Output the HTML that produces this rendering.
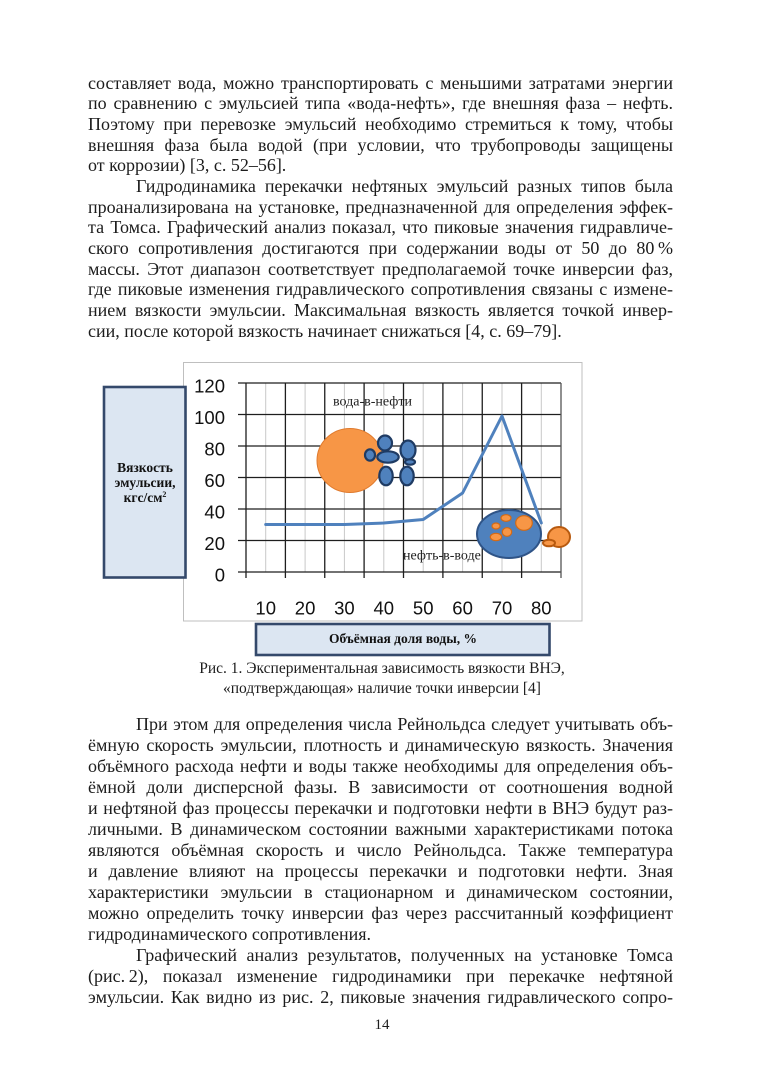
<!DOCTYPE html>
<html><head><meta charset="utf-8">
<style>
html,body{margin:0;padding:0;background:#fff;}
body{width:764px;height:1080px;position:relative;overflow:hidden;font-family:"Liberation Serif","Noto Serif CJK SC",serif;color:#1c1c1c;}
.blk{position:absolute;left:88px;width:585px;font-size:18px;}
.blk div{height:var(--lh);line-height:var(--lh);white-space:normal;}
.j{text-align:justify;text-align-last:justify;}
.l{text-align:left;}
.ind{padding-left:48px;}
.cap{position:absolute;left:0;width:764px;text-align:center;font-size:15.5px;line-height:20px;}
svg{position:absolute;left:0;top:0;}
</style></head><body>

<div class="blk" style="top:72.7px;--lh:20.67px;">
<div class="j">составляет вода, можно транспортировать с меньшими затратами энергии</div>
<div class="j">по сравнению с эмульсией типа «вода-нефть», где внешняя фаза – нефть.</div>
<div class="j">Поэтому при перевозке эмульсий необходимо стремиться к тому, чтобы</div>
<div class="j">внешняя фаза была водой (при условии, что трубопроводы защищены</div>
<div class="l">от коррозии) [3, с. 52–56].</div>
<div class="j ind">Гидродинамика перекачки нефтяных эмульсий разных типов была</div>
<div class="j">проанализирована на установке, предназначенной для определения эффек-</div>
<div class="j">та Томса. Графический анализ показал, что пиковые значения гидравличе-</div>
<div class="j">ского сопротивления достигаются при содержании воды от 50 до 80&#8201;%</div>
<div class="j">массы. Этот диапазон соответствует предполагаемой точке инверсии фаз,</div>
<div class="j">где пиковые изменения гидравлического сопротивления связаны с измене-</div>
<div class="j">нием вязкости эмульсии. Максимальная вязкость является точкой инвер-</div>
<div class="l">сии, после которой вязкость начинает снижаться [4, с. 69–79].</div>
</div>

<svg width="764" height="1080" viewBox="0 0 764 1080">
  <!-- chart frame -->
  <rect x="183.5" y="362.5" width="398.5" height="258.5" fill="#fff" stroke="#bfbfbf" stroke-width="1"/>
  <!-- light vertical gridlines -->
  <g stroke="#c8c8c8" stroke-width="1">
    <line x1="265.7" y1="383" x2="265.7" y2="572"/>
    <line x1="305.1" y1="383" x2="305.1" y2="572"/>
    <line x1="344.4" y1="383" x2="344.4" y2="572"/>
    <line x1="383.8" y1="383" x2="383.8" y2="572"/>
    <line x1="423.2" y1="383" x2="423.2" y2="572"/>
    <line x1="462.6" y1="383" x2="462.6" y2="572"/>
    <line x1="502.0" y1="383" x2="502.0" y2="572"/>
    <line x1="541.3" y1="383" x2="541.3" y2="572"/>
  </g>
  <!-- dark horizontal gridlines -->
  <g stroke="#1e1e1e" stroke-width="1.3">
    <line x1="238" y1="383" x2="561" y2="383"/>
    <line x1="238" y1="414.5" x2="561" y2="414.5"/>
    <line x1="238" y1="446" x2="561" y2="446"/>
    <line x1="238" y1="477.5" x2="561" y2="477.5"/>
    <line x1="238" y1="509" x2="561" y2="509"/>
    <line x1="238" y1="540.5" x2="561" y2="540.5"/>
    <line x1="238" y1="572" x2="561" y2="572"/>
  </g>
  <!-- dark vertical gridlines -->
  <g stroke="#1e1e1e" stroke-width="1.3">
    <line x1="246" y1="383" x2="246" y2="578"/>
    <line x1="285.4" y1="383" x2="285.4" y2="578"/>
    <line x1="324.75" y1="383" x2="324.75" y2="578"/>
    <line x1="364.1" y1="383" x2="364.1" y2="578"/>
    <line x1="403.5" y1="383" x2="403.5" y2="578"/>
    <line x1="442.9" y1="383" x2="442.9" y2="578"/>
    <line x1="482.25" y1="383" x2="482.25" y2="578"/>
    <line x1="521.6" y1="383" x2="521.6" y2="578"/>
    <line x1="561" y1="383" x2="561" y2="578" stroke="#555"/>
  </g>
  <!-- y labels -->
  <g font-family="Liberation Sans, DejaVu Sans, sans-serif" font-size="18.5" fill="#111" text-anchor="end">
    <text x="225" y="392.5">120</text>
    <text x="225" y="424">100</text>
    <text x="225" y="455.5">80</text>
    <text x="225" y="487">60</text>
    <text x="225" y="518.5">40</text>
    <text x="225" y="550">20</text>
    <text x="225" y="581.5">0</text>
  </g>
  <!-- x labels -->
  <g font-family="Liberation Sans, DejaVu Sans, sans-serif" font-size="18.5" fill="#111" text-anchor="middle">
    <text x="265.7" y="614.5">10</text>
    <text x="305.1" y="614.5">20</text>
    <text x="344.4" y="614.5">30</text>
    <text x="383.8" y="614.5">40</text>
    <text x="423.2" y="614.5">50</text>
    <text x="462.6" y="614.5">60</text>
    <text x="502.0" y="614.5">70</text>
    <text x="541.3" y="614.5">80</text>
  </g>
  <!-- data line -->
  <polyline points="265.7,524.5 305.1,524.5 344.4,524.5 383.8,523 423.2,519.5 462.6,493 502,416 541.3,523" fill="none" stroke="#4f81bd" stroke-width="3" stroke-linejoin="round" stroke-linecap="round"/>

  <!-- annotation text -->
  <g font-family="Liberation Serif, serif" font-size="14" fill="#222">
    <text x="333" y="405.5">вода-в-нефти</text>
    <text x="403" y="559.5">нефть-в-воде</text>
  </g>

  <!-- water-in-oil drawing -->
  <ellipse cx="350" cy="460.5" rx="33" ry="32" fill="#f79646" stroke="#e07b2e" stroke-width="1"/>
  <g fill="#4f81bd" stroke="#1f3b63" stroke-width="2.2">
    <ellipse cx="385" cy="443" rx="7" ry="7.5"/>
    <ellipse cx="408" cy="450" rx="7.5" ry="9.5"/>
    <ellipse cx="370" cy="455" rx="5" ry="5.7"/>
    <ellipse cx="388" cy="457" rx="10.7" ry="5.7"/>
    <ellipse cx="410" cy="462" rx="5" ry="2.7"/>
    <ellipse cx="386" cy="476" rx="6.7" ry="9.3"/>
    <ellipse cx="407" cy="476" rx="6.7" ry="9.3"/>
  </g>

  <!-- oil-in-water drawing -->
  <ellipse cx="509" cy="534" rx="32" ry="24" fill="#4f81bd" stroke="#2f5487" stroke-width="2"/>
  <g fill="#f79646" stroke="#d46a14" stroke-width="1.2">
    <ellipse cx="506" cy="518" rx="5" ry="3.3"/>
    <ellipse cx="524" cy="523" rx="8.3" ry="7.3"/>
    <ellipse cx="496" cy="526" rx="4" ry="3"/>
    <ellipse cx="507" cy="532" rx="4.7" ry="4.3"/>
    <ellipse cx="496" cy="537" rx="5.7" ry="3.7"/>
  </g>
  <g fill="#f79646" stroke="#b85a0f" stroke-width="2">
    <ellipse cx="559" cy="537" rx="11" ry="10"/>
    <ellipse cx="549" cy="543" rx="6" ry="3.3"/>
  </g>

  <!-- y axis title box -->
  <rect x="104" y="387" width="81.5" height="190.5" fill="#dce6f2" stroke="#34496b" stroke-width="2.6"/>
  <g font-family="Liberation Serif, serif" font-size="13.5" font-weight="bold" fill="#111" text-anchor="middle">
    <text x="145" y="472">Вязкость</text>
    <text x="145" y="487">эмульсии,</text>
    <text x="145" y="502">кгс/см<tspan font-size="8" dy="-5">2</tspan></text>
  </g>

  <!-- x axis title box -->
  <rect x="256" y="624" width="293.5" height="31" fill="#dce6f2" stroke="#34496b" stroke-width="2.6"/>
  <text x="403" y="643" font-family="Liberation Serif, serif" font-size="13.5" font-weight="bold" fill="#111" text-anchor="middle">Объёмная доля воды, %</text>
</svg>

<div class="cap" style="top:659px;">Рис. 1. Экспериментальная зависимость вязкости ВНЭ,</div>
<div class="cap" style="top:679px;">«подтверждающая» наличие точки инверсии [4]</div>

<div class="blk" style="top:713.6px;--lh:21px;">
<div class="j ind">При этом для определения числа Рейнольдса следует учитывать объ-</div>
<div class="j">ёмную скорость эмульсии, плотность и динамическую вязкость. Значения</div>
<div class="j">объёмного расхода нефти и воды также необходимы для определения объ-</div>
<div class="j">ёмной доли дисперсной фазы. В зависимости от соотношения водной</div>
<div class="j">и нефтяной фаз процессы перекачки и подготовки нефти в ВНЭ будут раз-</div>
<div class="j">личными. В динамическом состоянии важными характеристиками потока</div>
<div class="j">являются объёмная скорость и число Рейнольдса. Также температура</div>
<div class="j">и давление влияют на процессы перекачки и подготовки нефти. Зная</div>
<div class="j">характеристики эмульсии в стационарном и динамическом состоянии,</div>
<div class="j">можно определить точку инверсии фаз через рассчитанный коэффициент</div>
<div class="l">гидродинамического сопротивления.</div>
<div class="j ind">Графический анализ результатов, полученных на установке Томса</div>
<div class="j">(рис.&#8201;2), показал изменение гидродинамики при перекачке нефтяной</div>
<div class="j">эмульсии. Как видно из рис. 2, пиковые значения гидравлического сопро-</div>
</div>

<div class="cap" style="top:1015px;font-size:15px;">14</div>

</body></html>
